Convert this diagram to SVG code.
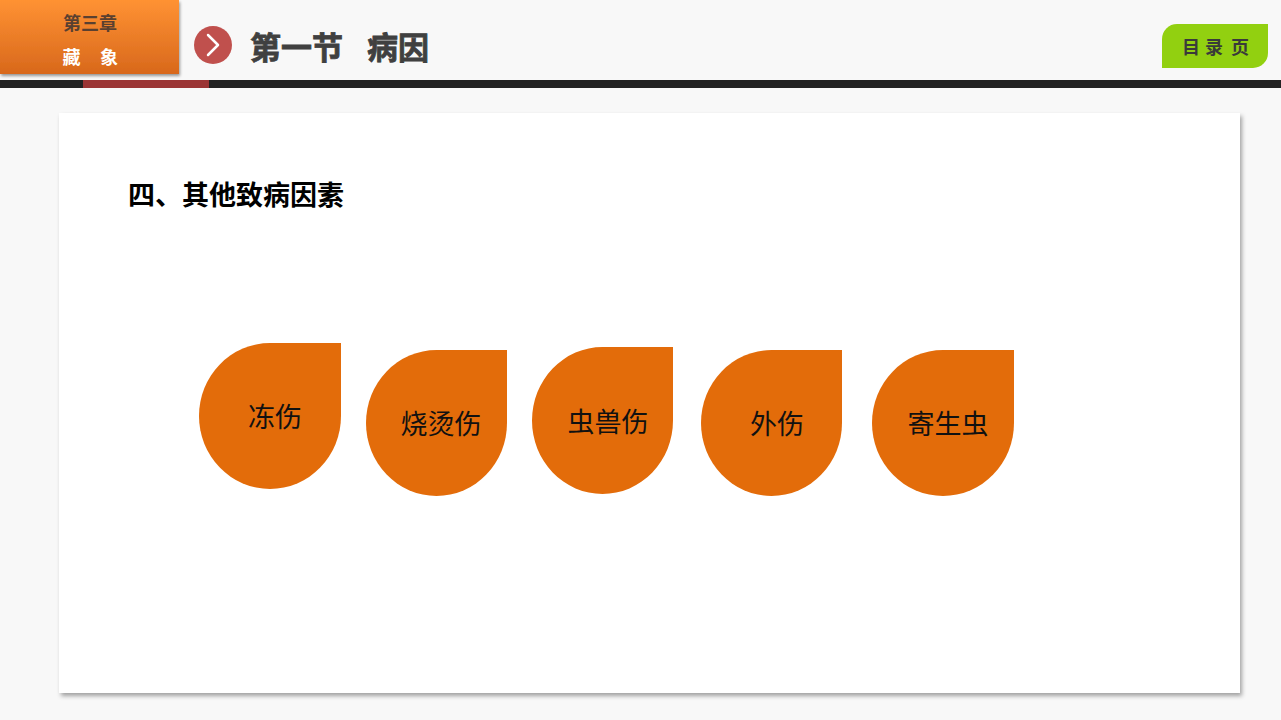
<svg xmlns="http://www.w3.org/2000/svg" width="1281" height="720" viewBox="0 0 1281 720">
<defs>
<linearGradient id="og" x1="0" y1="0" x2="0" y2="1">
<stop offset="0" stop-color="#ff9233"/>
<stop offset="1" stop-color="#d8681c"/>
</linearGradient>
<filter id="sh" x="-5%" y="-5%" width="110%" height="115%">
<feDropShadow dx="2" dy="3" stdDeviation="2" flood-color="#000" flood-opacity="0.35"/>
</filter>
<filter id="sh2" x="-5%" y="-5%" width="110%" height="120%">
<feDropShadow dx="1" dy="2" stdDeviation="1.5" flood-color="#000" flood-opacity="0.4"/>
</filter>
</defs>
<style>
.drop{fill:#e36c0a;}
.lbl{font-family:"Noto Sans CJK SC","Liberation Sans",sans-serif;font-size:27px;fill:#111;text-anchor:middle;}
.hd{font-family:"Noto Sans CJK SC",sans-serif;font-weight:bold;}
.mid{text-anchor:middle;}
</style>
<rect width="1281" height="720" fill="#f8f8f8"/>
<g id="chapter">
<rect x="0" y="0" width="179" height="74" fill="url(#og)" filter="url(#sh2)"/>
<text x="90" y="30" class="hd mid" font-size="18" fill="#5a4030">第三章</text>
<text x="71.5" y="64" class="hd mid" font-size="18" fill="#fff">藏</text>
<text x="109" y="64" class="hd mid" font-size="18" fill="#fff">象</text>
</g>
<g id="title">
<circle cx="213" cy="45" r="19" fill="#c0504d"/>
<path d="M208 35 L218 45 L208 55" fill="none" stroke="#fff" stroke-width="2.5" stroke-linecap="round" stroke-linejoin="round"/>
<text x="250" y="59" class="hd" font-size="31" fill="#404040" stroke="#404040" stroke-width="0.8">第一节</text>
<text x="367" y="59" class="hd" font-size="31" fill="#404040" stroke="#404040" stroke-width="0.8">病因</text>
</g>
<g id="bar">
<rect x="0" y="80" width="1281" height="8" fill="#222"/>
<rect x="83" y="80" width="126" height="8" fill="#9b3535"/>
</g>
<g id="toc">
<path d="M1177 24 L1268 24 L1268 53 A15 15 0 0 1 1253 68 L1162 68 L1162 39 A15 15 0 0 1 1177 24 Z" fill="#92d010"/>
<text x="1191" y="54" class="hd mid" font-size="18" fill="#3a3a3a">目</text>
<text x="1214" y="54" class="hd mid" font-size="18" fill="#3a3a3a">录</text>
<text x="1240" y="54" class="hd mid" font-size="18" fill="#3a3a3a">页</text>
</g>
<g id="card">
<rect x="59" y="113" width="1181" height="580" fill="#fff" filter="url(#sh)"/>
<text x="128" y="205" class="hd" font-size="27" fill="#000">四、其他致病因素</text>
</g>
<g id="n1">
<path class="drop" d="M199 416 A71 73 0 0 1 270 343 L341 343 L341 416 A71 73 0 0 1 270 489 A71 73 0 0 1 199 416 Z"/>
<text class="lbl" x="275" y="427">冻伤</text>
</g>
<g id="n2">
<path class="drop" d="M366 423 A70.5 73 0 0 1 436.5 350 L507 350 L507 423 A70.5 73 0 0 1 436.5 496 A70.5 73 0 0 1 366 423 Z"/>
<text class="lbl" x="441" y="434">烧烫伤</text>
</g>
<g id="n3">
<path class="drop" d="M532 420.5 A70.5 73.5 0 0 1 602.5 347 L673 347 L673 420.5 A70.5 73.5 0 0 1 602.5 494 A70.5 73.5 0 0 1 532 420.5 Z"/>
<text class="lbl" x="608" y="432">虫兽伤</text>
</g>
<g id="n4">
<path class="drop" d="M701 423 A70.5 73 0 0 1 771.5 350 L842 350 L842 423 A70.5 73 0 0 1 771.5 496 A70.5 73 0 0 1 701 423 Z"/>
<text class="lbl" x="777" y="434">外伤</text>
</g>
<g id="n5">
<path class="drop" d="M872 423 A71 73 0 0 1 943 350 L1014 350 L1014 423 A71 73 0 0 1 943 496 A71 73 0 0 1 872 423 Z"/>
<text class="lbl" x="948" y="434">寄生虫</text>
</g>
<g id="connectors"/>
</svg>
